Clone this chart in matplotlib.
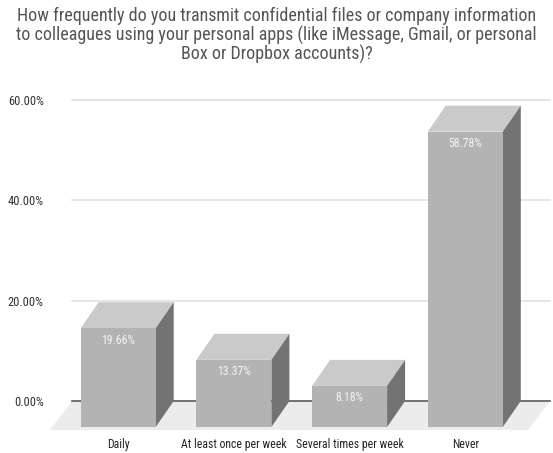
import matplotlib
matplotlib.use("Agg")
import matplotlib.pyplot as plt
from matplotlib.patches import Polygon
from matplotlib import font_manager

# data
categories = ["Daily", "At least once per week", "Several times per week", "Never"]
values = [19.66, 13.37, 8.18, 58.78]
value_labels = ["19.66%", "13.37%", "8.18%", "58.78%"]
yticks = [0, 20, 40, 60]
ytick_labels = ["0.00%", "20.00%", "40.00%", "60.00%"]
title = ("How frequently do you transmit confidential files or company information\n"
         "to colleagues using your personal apps (like iMessage, Gmail, or personal\n"
         "Box or Dropbox accounts)?")


def pick_font(names):
    for n in names:
        try:
            font_manager.findfont(font_manager.FontProperties(family=n), fallback_to_default=False)
            return n
        except Exception:
            pass
    return None


narrow = pick_font(["Liberation Sans Narrow", "Arial Narrow", "DejaVu Sans Condensed",
                    "Roboto Condensed", "Open Sans Condensed"])
is_narrow = narrow is not None
if not is_narrow:
    narrow = "Liberation Sans"
shrink = 1.0 if is_narrow else 0.85

plt.rcParams["font.family"] = ["Liberation Sans", "DejaVu Sans"]

FRONT = "#b3b3b3"
TOP = "#cacaca"
SIDE = "#737373"
FLOOR = "#ececec"
GRID = "#e1e1e1"

W, H = 553, 453
fig = plt.figure(figsize=(W / 100, H / 100), dpi=100)
# axes placed in pixels: left 50, right 553, top 90, bottom 440
ax = fig.add_axes([50 / W, (H - 440) / H, 503 / W, 350 / H])

px_per_unit = 115.7           # category spacing in pixels
px_per_pct = 5.025            # pixels per percent
ax.set_xlim((50 - 118.2) / px_per_unit, (553 - 118.2) / px_per_unit)
ax.set_ylim(-39 / px_per_pct, 311 / px_per_pct)

bar_w = 75 / px_per_unit
dx = 18 / px_per_unit         # depth shift to the right (back face)
dy = 26 / px_per_pct          # depth shift upwards (back face)
fdx = 22 / px_per_unit        # floor depth
fdy = 29 / px_per_pct
floor_l = (50 - 118.2) / px_per_unit
floor_r = (528 - 118.2) / px_per_unit

# floor
ax.add_patch(Polygon([(floor_l, -fdy), (floor_r, -fdy), (floor_r + fdx, 0), (floor_l + fdx, 0)],
                     closed=True, fc=FLOOR, ec="none", zorder=1))
# grid
for t in yticks[1:]:
    ax.plot([floor_l + fdx, floor_r + fdx], [t, t], color=GRID, lw=1.2, zorder=0)
ax.plot([floor_l + fdx, floor_r + fdx], [0, 0], color="#5a5a5a", lw=1.2, zorder=2)

# bars (front face bottom sits at -dy, back face bottom at 0)
for i, v in enumerate(values):
    x0 = i - bar_w / 2
    x1 = i + bar_w / 2
    yb = -dy
    yt = v - dy
    ax.add_patch(Polygon([(x0, yt), (x1, yt), (x1 + dx, v), (x0 + dx, v)],
                         closed=True, fc=TOP, ec="none", zorder=3))
    ax.add_patch(Polygon([(x1, yb), (x1 + dx, 0), (x1 + dx, v), (x1, yt)],
                         closed=True, fc=SIDE, ec="none", zorder=3))
    ax.add_patch(Polygon([(x0, yb), (x1, yb), (x1, yt), (x0, yt)],
                         closed=True, fc=FRONT, ec="none", zorder=4))
    ax.text(i, yt - 12 / px_per_pct, value_labels[i], ha="center", va="center",
            color="#f4f4f4", fontsize=8.5 * shrink, family=narrow, zorder=5)

ax.set_yticks(yticks)
ax.set_yticklabels(ytick_labels, family=narrow, fontsize=9 * shrink, color="#333333")
ax.set_xticks(range(len(categories)))
ax.set_xticklabels(categories, family=narrow, fontsize=8.5 * shrink, color="#222222")
ax.tick_params(axis="both", length=0)
ax.tick_params(axis="y", pad=4.5)
ax.tick_params(axis="x", pad=-1.5)
for s in ax.spines.values():
    s.set_visible(False)
ax.patch.set_alpha(0)

title_size = 13 if is_narrow else 12
fig.text(0.5, 1 - 7 / H, title, ha="center", va="top", fontsize=title_size,
         family=[narrow, "DejaVu Sans"], color="#555555", linespacing=1.02)

fig.savefig("out.png", dpi=100)
